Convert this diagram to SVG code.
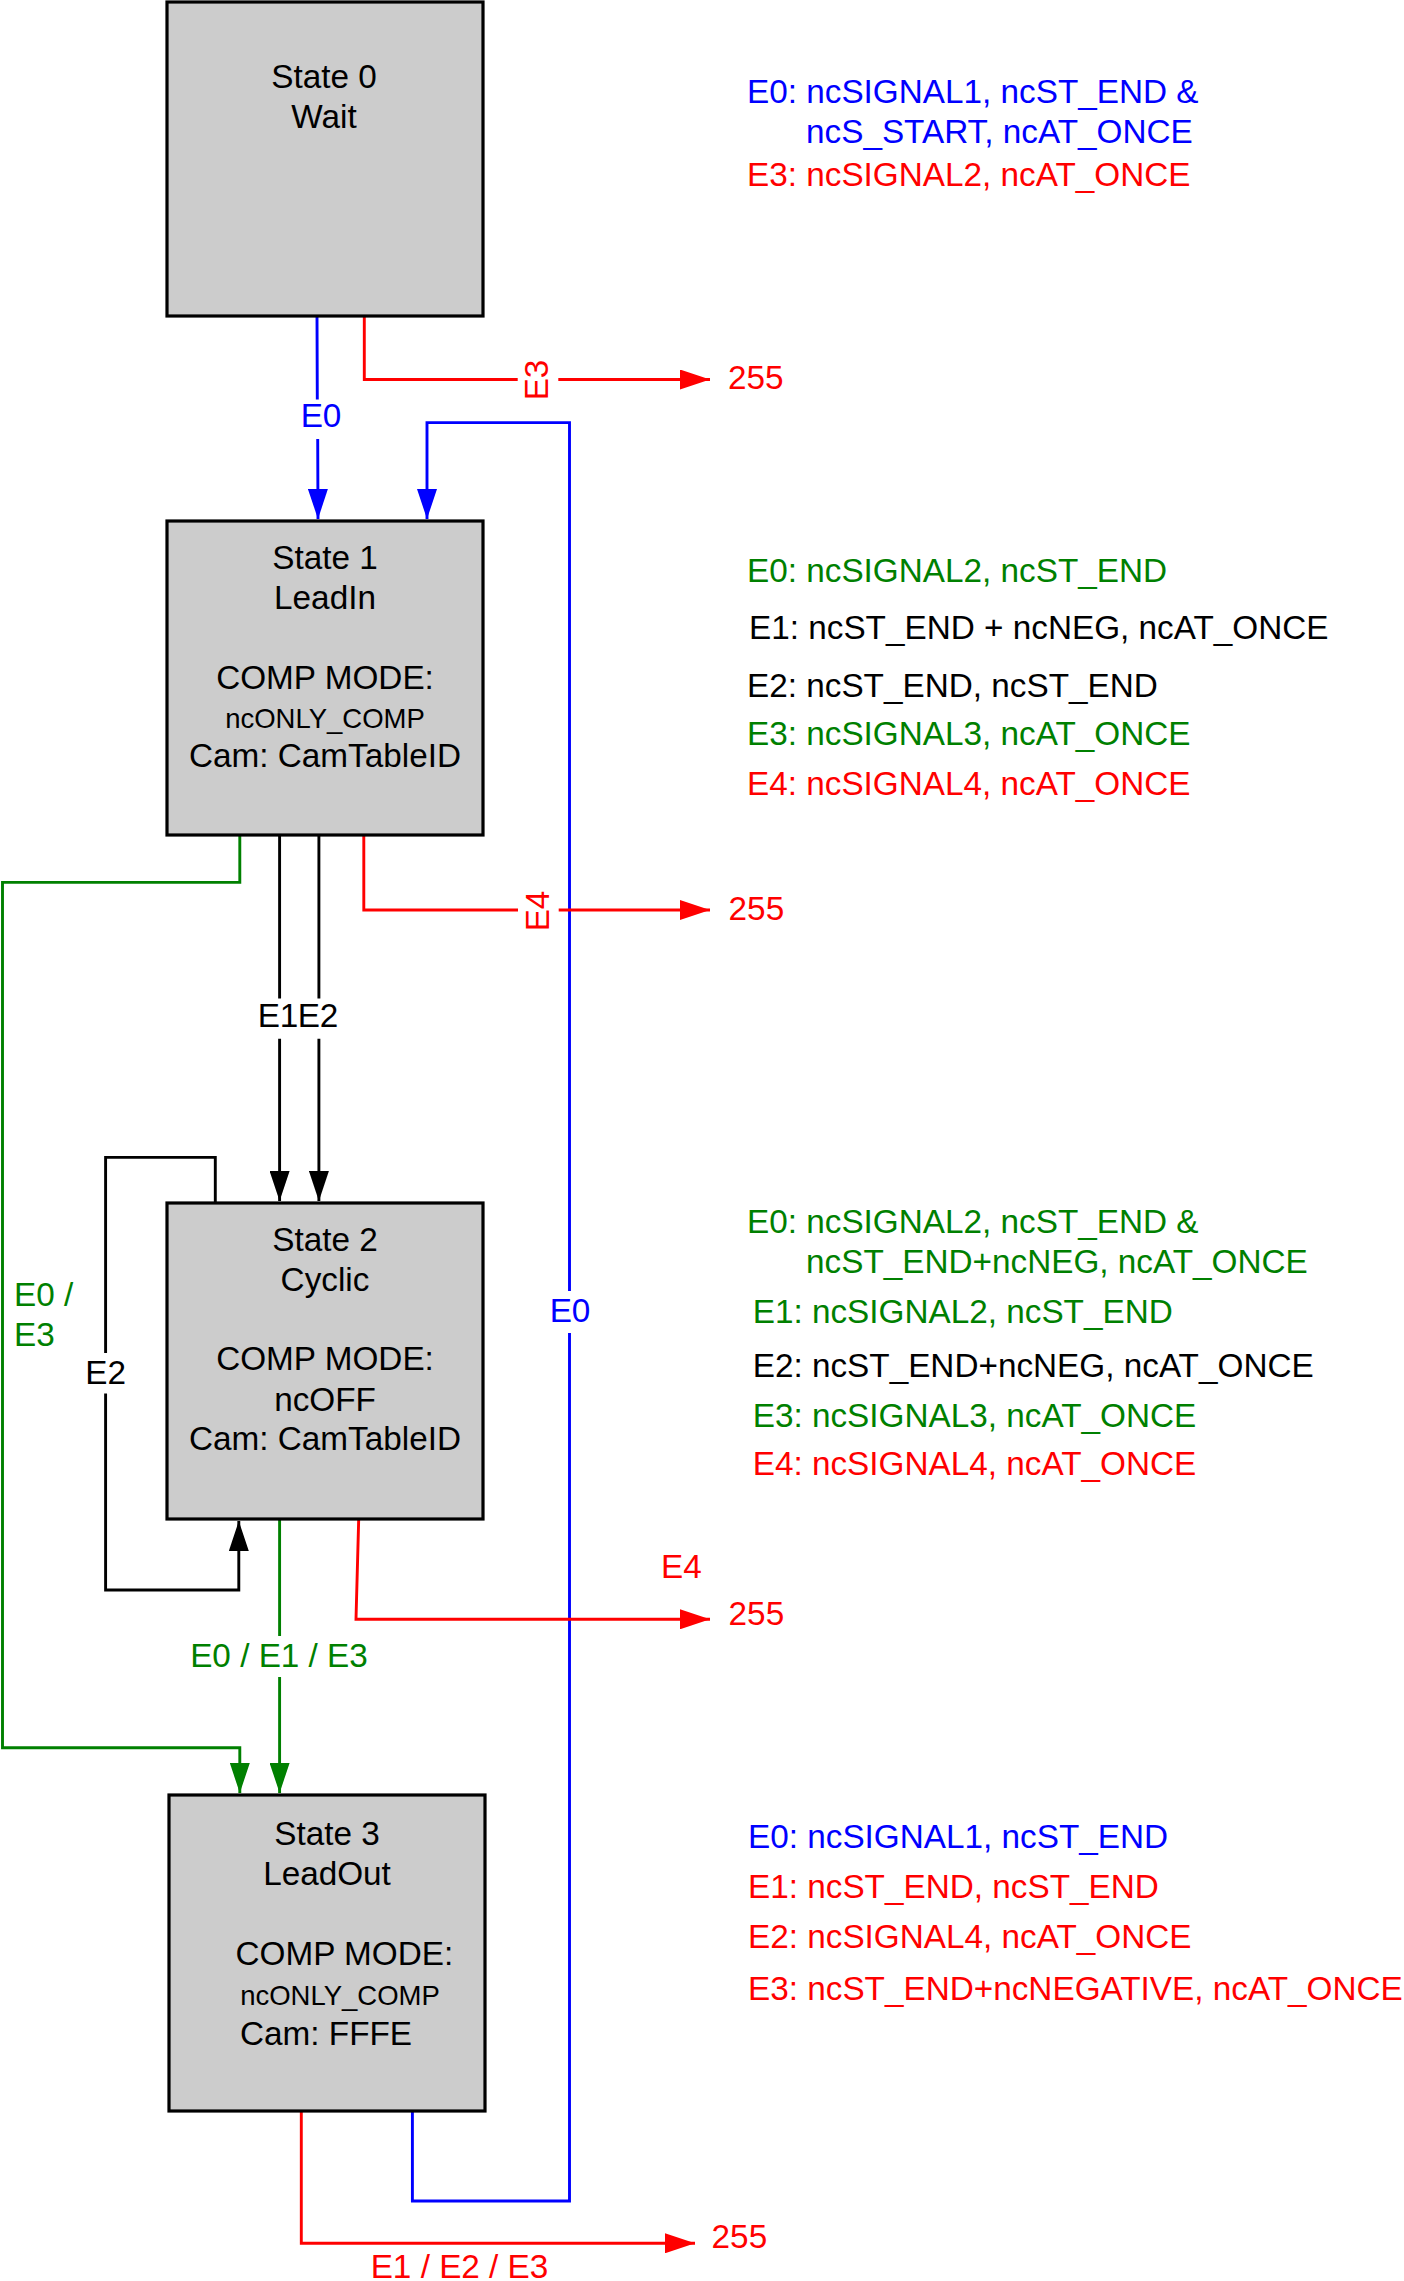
<svg xmlns="http://www.w3.org/2000/svg" width="1404" height="2281" viewBox="0 0 1404 2281">
<style>
text{font-family:"Liberation Sans",Arial,sans-serif;font-size:33.3px}
.c{text-anchor:middle}
.sm{font-size:27.5px}
.box{fill:#cccccc;stroke:#000;stroke-width:3.2}
.tb{fill:#0000ff}.tr{fill:#ff0000}.tg{fill:#008000}.tk{fill:#000}
.l{fill:none;stroke-width:2.9}
.lb{stroke:#0000ff}.lr{stroke:#ff0000}.lg{stroke:#008000}.lk{stroke:#000}
</style>
<defs>
<marker id="aB" markerUnits="userSpaceOnUse" markerWidth="30" markerHeight="20" refX="30" refY="10" orient="auto"><path d="M0,0L30,10L0,20z" fill="#0000ff"/></marker>
<marker id="aR" markerUnits="userSpaceOnUse" markerWidth="30" markerHeight="20" refX="30" refY="10" orient="auto"><path d="M0,0L30,10L0,20z" fill="#ff0000"/></marker>
<marker id="aG" markerUnits="userSpaceOnUse" markerWidth="30" markerHeight="20" refX="30" refY="10" orient="auto"><path d="M0,0L30,10L0,20z" fill="#008000"/></marker>
<marker id="aK" markerUnits="userSpaceOnUse" markerWidth="30" markerHeight="20" refX="30" refY="10" orient="auto"><path d="M0,0L30,10L0,20z" fill="#000"/></marker>
</defs>
<rect width="1404" height="2281" fill="#fff"/>

<g id="connectors">
  <path class="l lb" d="M317,316L317.3,399.5M317.7,439L318,519" marker-end="url(#aB)"/>
  <text class="c tb" x="321" y="427">E0</text>
  <path class="l lr" d="M364.3,316V379.5H517.7M558.3,379.5H710" marker-end="url(#aR)"/>
  <text class="c tr" transform="translate(548,380) rotate(-90)">E3</text>
  <text class="tr" x="728" y="389">255</text>
  <path class="l lb" d="M412.4,2111V2201H569.5V1333M569.5,1291V422.6H427V519" marker-end="url(#aB)"/>
  <text class="c tb" x="570" y="1322">E0</text>
  <path class="l lg" d="M239.8,835V882.4H2.5V1747.7H239.8V1793" marker-end="url(#aG)"/>
  <text class="tg" x="14" y="1306">E0 /</text>
  <text class="tg" x="14" y="1346">E3</text>
  <path class="l lk" d="M279.6,835V998.5M279.6,1038.7V1201" marker-end="url(#aK)"/>
  <path class="l lk" d="M318.9,835V998.5M318.9,1038.7V1201" marker-end="url(#aK)"/>
  <text class="c tk" x="278" y="1027">E1</text>
  <text class="c tk" x="318" y="1027">E2</text>
  <path class="l lr" d="M363.8,835V910H518M558.7,910H710" marker-end="url(#aR)"/>
  <text class="c tr" transform="translate(548.5,911) rotate(-90)">E4</text>
  <text class="tr" x="728.6" y="920">255</text>
  <path class="l lk" d="M215.3,1203V1157.4H105.6V1353M105.6,1393.5V1590H238.8V1521" marker-end="url(#aK)"/>
  <text class="c tk" x="105.6" y="1384">E2</text>
  <path class="l lg" d="M279.6,1519V1636M279.6,1677V1793" marker-end="url(#aG)"/>
  <text class="c tg" x="279" y="1667">E0 / E1 / E3</text>
  <path class="l lr" d="M358.7,1519L356,1619.3H710" marker-end="url(#aR)"/>
  <text class="tr" x="661" y="1578">E4</text>
  <text class="tr" x="728.6" y="1625">255</text>
  <path class="l lr" d="M301.3,2111V2243.3H695" marker-end="url(#aR)"/>
  <text class="tr" x="711.6" y="2248">255</text>
  <text class="c tr" x="459.5" y="2278">E1 / E2 / E3</text>
</g>

<g id="state0">
  <rect class="box" x="167" y="2" width="316" height="314"/>
  <text class="c tk" x="324" y="88">State 0</text>
  <text class="c tk" x="324" y="127.5">Wait</text>
</g>
<g id="state1">
  <rect class="box" x="167" y="521" width="316" height="314"/>
  <text class="c tk" x="325" y="569">State 1</text>
  <text class="c tk" x="325" y="609">LeadIn</text>
  <text class="c tk" x="325" y="688.5">COMP MODE:</text>
  <text class="c tk sm" x="325" y="727.5">ncONLY_COMP</text>
  <text class="c tk" x="325" y="767">Cam: CamTableID</text>
</g>
<g id="state2">
  <rect class="box" x="167" y="1203" width="316" height="316"/>
  <text class="c tk" x="325" y="1251">State 2</text>
  <text class="c tk" x="325" y="1291">Cyclic</text>
  <text class="c tk" x="325" y="1370">COMP MODE:</text>
  <text class="c tk" x="325" y="1410.5">ncOFF</text>
  <text class="c tk" x="325" y="1450">Cam: CamTableID</text>
</g>
<g id="state3">
  <rect class="box" x="169" y="1795" width="316" height="316"/>
  <text class="c tk" x="327" y="1845">State 3</text>
  <text class="c tk" x="327" y="1885">LeadOut</text>
  <text class="c tk" x="344.4" y="1965">COMP MODE:</text>
  <text class="c tk sm" x="340" y="2005">ncONLY_COMP</text>
  <text class="c tk" x="326" y="2045">Cam: FFFE</text>
</g>

<g id="notes0">
  <text class="tb" x="747" y="103.3">E0: ncSIGNAL1, ncST_END &amp;</text>
  <text class="tb" x="806" y="142.7">ncS_START, ncAT_ONCE</text>
  <text class="tr" x="747" y="186">E3: ncSIGNAL2, ncAT_ONCE</text>
</g>
<g id="notes1">
  <text class="tg" x="747" y="581.7">E0: ncSIGNAL2, ncST_END</text>
  <text class="tk" x="749" y="639.3">E1: ncST_END + ncNEG, ncAT_ONCE</text>
  <text class="tk" x="747" y="696.7">E2: ncST_END, ncST_END</text>
  <text class="tg" x="747" y="745">E3: ncSIGNAL3, ncAT_ONCE</text>
  <text class="tr" x="747" y="795">E4: ncSIGNAL4, ncAT_ONCE</text>
</g>
<g id="notes2">
  <text class="tg" x="747" y="1233.3">E0: ncSIGNAL2, ncST_END &amp;</text>
  <text class="tg" x="806" y="1272.7">ncST_END+ncNEG, ncAT_ONCE</text>
  <text class="tg" x="752.7" y="1323.3">E1: ncSIGNAL2, ncST_END</text>
  <text class="tk" x="752.7" y="1376.7">E2: ncST_END+ncNEG, ncAT_ONCE</text>
  <text class="tg" x="752.7" y="1426.7">E3: ncSIGNAL3, ncAT_ONCE</text>
  <text class="tr" x="752.7" y="1475">E4: ncSIGNAL4, ncAT_ONCE</text>
</g>
<g id="notes3">
  <text class="tb" x="748" y="1848.3">E0: ncSIGNAL1, ncST_END</text>
  <text class="tr" x="748" y="1898.3">E1: ncST_END, ncST_END</text>
  <text class="tr" x="748" y="1948.3">E2: ncSIGNAL4, ncAT_ONCE</text>
  <text class="tr" x="748" y="2000">E3: ncST_END+ncNEGATIVE, ncAT_ONCE</text>
</g>
</svg>
